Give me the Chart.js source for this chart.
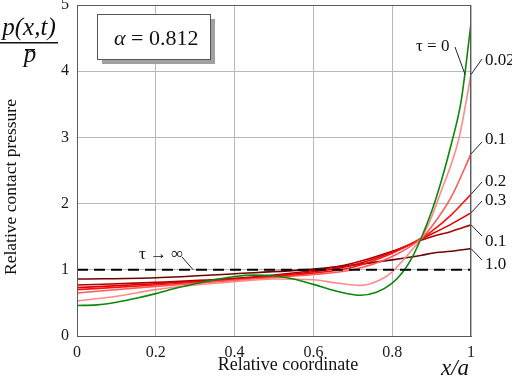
<!DOCTYPE html>
<html>
<head>
<meta charset="utf-8">
<script src="https://cdn.jsdelivr.net/npm/chart.js@4/dist/chart.umd.min.js"></script>
<style>
  html, body { margin: 0; padding: 0; background: #fff; }
</style>
</head>
<body>
<canvas id="chart" width="512" height="383"></canvas>
<script>
const $ = document.querySelector.bind(document)

// relative coordinate x/a and relative pressure p(x,t)/p̄
const xTau0 = [0, 0.05, 0.1, 0.15, 0.2, 0.25, 0.3, 0.35, 0.4, 0.45, 0.5, 0.55, 0.6, 0.65, 0.69, 0.72, 0.76, 0.8, 0.825, 0.85, 0.875, 0.9, 0.925, 0.95, 0.975, 1]
const pTau0 = [0.46, 0.47, 0.51, 0.57, 0.64, 0.72, 0.79, 0.85, 0.9, 0.92, 0.91, 0.86, 0.78, 0.69, 0.635, 0.615, 0.66, 0.8, 0.95, 1.18, 1.5, 1.88, 2.35, 2.9, 3.55, 4.72]

const xTau002 = [0, 0.1, 0.2, 0.3, 0.4, 0.5, 0.6, 0.66, 0.72, 0.77, 0.8, 0.85, 0.875, 0.9, 0.925, 0.95, 0.97, 1]
const pTau002 = [0.53, 0.6, 0.7, 0.77, 0.82, 0.86, 0.85, 0.8, 0.765, 0.85, 0.97, 1.3, 1.48, 1.8, 2.2, 2.6, 3.0, 3.95]

const xRed = [0, 0.2, 0.4, 0.6, 0.7, 0.8, 0.875, 0.9, 0.95, 1]
const pTau01 = [0.65, 0.75, 0.84, 0.93, 1.0, 1.2, 1.48, 1.65, 2.1, 2.75]
const pTau02 = [0.7, 0.77, 0.85, 0.95, 1.04, 1.25, 1.48, 1.58, 1.83, 2.14]
const pTau03 = [0.73, 0.79, 0.86, 0.97, 1.07, 1.27, 1.47, 1.54, 1.69, 1.86]
const pTau01b = [0.77, 0.81, 0.87, 0.99, 1.1, 1.28, 1.45, 1.5, 1.58, 1.68]
const pTau10 = [0.86, 0.88, 0.94, 1.01, 1.07, 1.15, 1.22, 1.25, 1.28, 1.32]

const xInf = [0, 1]
const pInf = [1, 1]

const curveLabels = ["τ = 0", "0.02", "0.1", "0.2", "0.3", "0.1", "1.0"]
const alphaValue = "0.812"

const serif = "'Liberation Serif', 'Times New Roman', serif"

const pts = (xs, ys) => xs.map((x, i) => ({ x: x, y: ys[i] }))

const curves = [
    { xs: xTau0, ys: pTau0, color: "#0b870b" },
    { xs: xTau002, ys: pTau002, color: "#ff8a8a" },
    { xs: xRed, ys: pTau01, color: "#ff5a5a" },
    { xs: xRed, ys: pTau02, color: "#ff1010" },
    { xs: xRed, ys: pTau03, color: "#dd0000" },
    { xs: xRed, ys: pTau01b, color: "#aa0000" },
    { xs: xRed, ys: pTau10, color: "#700000" },
]

// label text position (px) and where its leader touches the curve (data units)
const leaders = [
    { tx: 416, ty: 51, from: [455, 47], at: [0.985, 3.95] },
    { tx: 485, ty: 65, from: [482, 59], at: [1, 3.95] },
    { tx: 485, ty: 144, from: [482, 142], at: [1, 2.75] },
    { tx: 485, ty: 186, from: [482, 182], at: [1, 2.14] },
    { tx: 485, ty: 205, from: [482, 201], at: [1, 1.86] },
    { tx: 485, ty: 246, from: [482, 236], at: [1, 1.68] },
    { tx: 485, ty: 269, from: [482, 260], at: [1, 1.32] },
]

const decorations = {
    id: "decorations",
    afterDraw(chart) {
        const { ctx, chartArea: a, scales: { x, y } } = chart
        ctx.save()

        // frame
        ctx.strokeStyle = "#5a5a5a"
        ctx.lineWidth = 1
        ctx.strokeRect(a.left + 0.5, a.top + 0.5, a.right - a.left - 1, a.bottom - a.top)

        // alpha box with shadow
        ctx.fillStyle = "#a0a0a0"
        ctx.fillRect(102, 19, 113, 45)
        ctx.fillStyle = "#fff"
        ctx.fillRect(97.5, 14.5, 113, 45)
        ctx.strokeStyle = "#555"
        ctx.strokeRect(97.5, 14.5, 113, 45)
        ctx.fillStyle = "#111"
        ctx.textBaseline = "alphabetic"
        ctx.textAlign = "left"
        ctx.font = `italic 22px ${serif}`
        ctx.fillText("α", 114, 45)
        const aw = ctx.measureText("α").width
        ctx.font = `22px ${serif}`
        ctx.fillText(" = " + alphaValue, 114 + aw, 45)

        // curve labels
        ctx.font = `17px ${serif}`
        ctx.lineWidth = 1
        ctx.strokeStyle = "#222"
        leaders.forEach((l, i) => {
            ctx.fillText(curveLabels[i], l.tx, l.ty)
            ctx.beginPath()
            ctx.moveTo(l.from[0], l.from[1])
            ctx.lineTo(x.getPixelForValue(l.at[0]), y.getPixelForValue(l.at[1]))
            ctx.stroke()
        })

        // tau -> infinity
        ctx.fillText("τ → ∞", 139, 259)
        ctx.beginPath()
        ctx.moveTo(182, 257)
        ctx.lineTo(x.getPixelForValue(0.295), y.getPixelForValue(1))
        ctx.stroke()

        // y label fraction
        ctx.font = `italic 25px ${serif}`
        ctx.textAlign = "center"
        ctx.fillText("p(x,t)", 29, 35)
        ctx.fillRect(0, 42, 58, 1.5)
        ctx.fillText("p", 30, 62)
        ctx.fillRect(25, 49, 10, 1.3)

        // y title
        ctx.font = `17.5px ${serif}`
        ctx.save()
        ctx.translate(16, 187)
        ctx.rotate(-Math.PI / 2)
        ctx.fillText("Relative contact pressure", 0, 0)
        ctx.restore()

        // x title
        ctx.font = `18px ${serif}`
        ctx.fillText("Relative coordinate", 288, 370)
        ctx.font = `italic 23px ${serif}`
        ctx.fillText("x/a", 455, 375)

        ctx.restore()
    }
}

const datasets = curves.map(c => ({
    data: pts(c.xs, c.ys),
    borderColor: c.color,
    borderWidth: 1.6,
    pointRadius: 0,
    cubicInterpolationMode: "monotone",
    fill: false,
}))

datasets.unshift({
    data: pts(xInf, pInf),
    borderColor: "#000",
    borderWidth: 2,
    borderDash: [11, 6],
    pointRadius: 0,
    fill: false,
})

new Chart($("#chart"), {
    type: "line",
    data: { datasets },
    options: {
        responsive: false,
        animation: false,
        layout: { padding: { left: 0, top: 5, right: 41, bottom: 0 } },
        scales: {
            x: {
                type: "linear",
                min: 0,
                max: 1,
                ticks: {
                    stepSize: 0.2,
                    padding: 7,
                    color: "#1a1a1a",
                    font: { family: serif, size: 16 },
                    callback: v => Number(v.toFixed(1)).toString(),
                },
                grid: { color: "#b8b8b8", drawTicks: false },
                border: { color: "#5a5a5a" },
                afterFit: s => { s.height = 47; s.paddingLeft = 0; s.paddingRight = 0 },
            },
            y: {
                min: 0,
                max: 5,
                ticks: {
                    stepSize: 1,
                    padding: 8,
                    color: "#1a1a1a",
                    font: { family: serif, size: 16 },
                },
                grid: { color: "#b8b8b8", drawTicks: false },
                border: { color: "#5a5a5a" },
                afterFit: s => { s.width = 77; s.paddingTop = 0; s.paddingBottom = 0 },
            },
        },
        plugins: {
            legend: { display: false },
            tooltip: { enabled: false },
        },
    },
    plugins: [decorations],
})
</script>
</body>
</html>
